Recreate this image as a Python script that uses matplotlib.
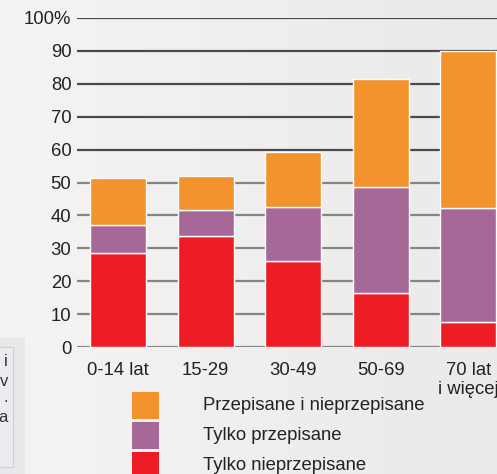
import numpy as np
import matplotlib
matplotlib.use("Agg")
import matplotlib.pyplot as plt
from matplotlib.patches import Rectangle

plt.rcParams['font.family'] = ['Liberation Sans', 'DejaVu Sans']

categories = ["0-14 lat", "15-29", "30-49", "50-69", "70 lat\ni więcej"]
only_unprescribed = [28.5, 33.7, 26.1, 16.5, 7.6]
only_prescribed = [8.5, 7.9, 16.4, 32.2, 34.6]
both = [14.5, 10.5, 16.7, 32.8, 47.8]
series_names = ["Przepisane i nieprzepisane", "Tylko przepisane", "Tylko nieprzepisane"]
yticks = list(range(0, 101, 10))
ytick_labels = ["0", "10", "20", "30", "40", "50", "60", "70", "80", "90", "100%"]

c_orange = "#F2932E"
c_purple = "#A66896"
c_red = "#EE1C25"
FS = 13.3

W, H = 497, 474
fig = plt.figure(figsize=(W / 100, H / 100), dpi=100)

# background gradient
bg = fig.add_axes([0, 0, 1, 1], zorder=-10)
grad = np.linspace(0, 1, 256)
c0 = np.array([0xf6, 0xf3, 0xf3]) / 255
c1 = np.array([0xea, 0xea, 0xe9]) / 255
img = (c0[None, :] * (1 - grad[:, None]) + c1[None, :] * grad[:, None])[None, :, :]
bg.imshow(img, aspect='auto', extent=[0, 1, 0, 1])
bg.set_axis_off()

# left cropped info box
box_outer = Rectangle((0, 0), 25 / W, (474 - 338) / H, transform=fig.transFigure,
                      facecolor="#e8e8ea", edgecolor="none", zorder=1)
box_inner = Rectangle((-0.01, (474 - 467) / H), 13 / W + 0.01, (467 - 347) / H,
                      transform=fig.transFigure, facecolor="#ebebf0",
                      edgecolor="#cfcfd4", lw=0.8, zorder=2)
fig.patches.extend([box_outer, box_inner])
for ch, yy in zip(["i", "v", ".", "a"], [362, 381, 398, 417]):
    fig.text(8 / W, 1 - yy / H, ch, ha='right', va='center', fontsize=12,
             color="#333333", zorder=3)

ax = fig.add_axes([77 / W, 1 - 347 / H, 1 - 77 / W, (347 - 18) / H])
ax.set_facecolor("none")
x = np.arange(len(categories))
width = 0.64

for yv in yticks:
    col = "#4a4a4a" if yv >= 60 else "#858585"
    ax.axhline(yv, color=col, lw=1.6, zorder=0)

ax.bar(x, only_unprescribed, width, color=c_red, edgecolor="white", lw=1, zorder=2)
bottom2 = np.array(only_unprescribed)
ax.bar(x, only_prescribed, width, bottom=bottom2, color=c_purple, edgecolor="white", lw=1, zorder=2)
bottom3 = bottom2 + np.array(only_prescribed)
ax.bar(x, both, width, bottom=bottom3, color=c_orange, edgecolor="white", lw=1, zorder=2)

ax.set_xlim(-0.47, 4.33)
ax.set_ylim(0, 100)
ax.set_yticks(yticks)
ax.set_yticklabels(ytick_labels)
ax.set_xticks(x)
ax.set_xticklabels(categories, linespacing=1.1)
ax.tick_params(axis='y', length=0, pad=4, labelsize=FS, labelcolor="#222222")
ax.tick_params(axis='x', length=0, pad=11, labelsize=FS, labelcolor="#222222")
for s in ax.spines.values():
    s.set_visible(False)

# legend
leg_colors = [c_orange, c_purple, c_red]
tops = [392, 422, 452]
for col, name, t in zip(leg_colors, series_names, tops):
    r = Rectangle((132 / W, 1 - (t + 27) / H), 27 / W, 27 / H, transform=fig.transFigure,
                  facecolor=col, edgecolor="none")
    fig.patches.append(r)
    fig.text(203 / W, 1 - (t + 14) / H, name, ha='left', va='center', fontsize=FS,
             color="#222222")

fig.savefig("out.png", dpi=100)
